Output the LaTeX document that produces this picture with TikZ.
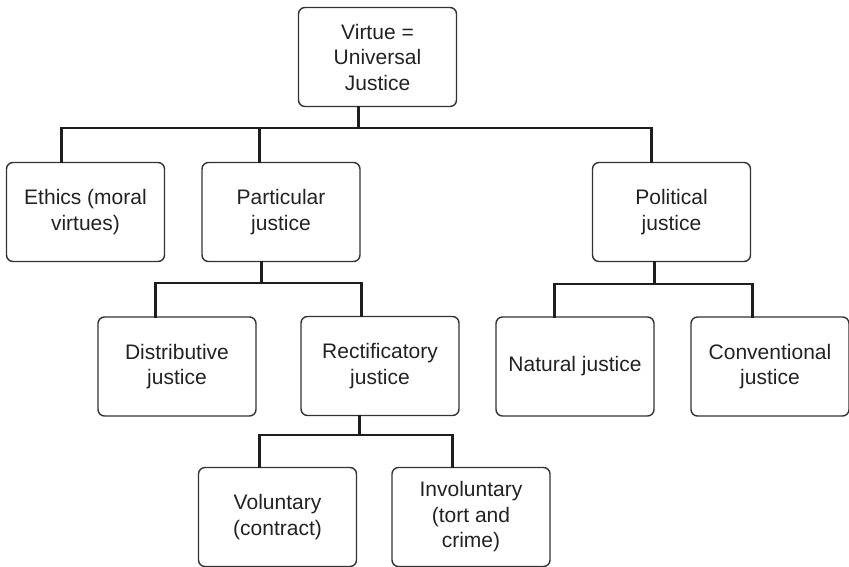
\documentclass[tikz,border=0pt]{standalone}
\usepackage{fontspec}
\setmainfont{Liberation Sans}
\begin{document}
\begin{tikzpicture}[x=1pt,y=-1pt,
  box/.style={draw=boxline, line width=1.4pt, rounded corners=6.5pt,
    minimum width=158pt, minimum height=99pt, inner sep=0pt,
    align=center, text=textgray,
    font=\fontsize{21}{25.5}\selectfont},
  conn/.style={draw=connline, line width=2.8pt, line join=miter, line cap=rect}]
\definecolor{boxline}{HTML}{333333}
\definecolor{connline}{HTML}{1E1E1E}
\definecolor{textgray}{HTML}{222222}
\useasboundingbox (0,0) rectangle (849,566);

% boxes
\node[box] (top) at (377.5,57) {Virtue =\\Universal\\Justice};
\node[box] (ethics) at (85.5,212) {Ethics (moral\\virtues)};
\node[box] (particular) at (281,212) {Particular\\justice};
\node[box] (political) at (671.5,212) {Political\\justice};
\node[box] (distributive) at (177,366.5) {Distributive\\justice};
\node[box] (rectificatory) at (380,366) {Rectificatory\\justice};
\node[box] (natural) at (575,366.5) {Natural justice};
\node[box] (conventional) at (770,366.5) {Conventional\\justice};
\node[box] (voluntary) at (277.5,517) {Voluntary\\(contract)};
\node[box] (involuntary) at (471,517) {Involuntary\\(tort and\\crime)};

% bar heights
\coordinate (bA) at (0,128);
\coordinate (bB) at (0,283);
\coordinate (bC) at (0,284);
\coordinate (bD) at (0,435);

% first level
\coordinate (tB) at ([xshift=61pt]top.south west);
\coordinate (eT) at ([xshift=56pt]ethics.north west);
\coordinate (pT) at ([xshift=58pt]particular.north west);
\coordinate (poT) at ([xshift=60pt]political.north west);
\draw[conn] (eT) -- (eT |- bA) -- (poT |- bA) -- (poT);
\draw[conn] (pT) -- (pT |- bA);
\draw[conn] (tB) -- (tB |- bA);

% particular justice
\coordinate (pB) at ([xshift=60pt]particular.south west);
\coordinate (dT) at ([xshift=58.5pt]distributive.north west);
\coordinate (rT) at ([xshift=61.5pt]rectificatory.north west);
\draw[conn] (dT) -- (dT |- bB) -- (rT |- bB) -- (rT);
\draw[conn] (pB) -- (pB |- bB);

% political justice
\coordinate (poB) at ([xshift=63pt]political.south west);
\coordinate (nT) at ([xshift=59pt]natural.north west);
\coordinate (cT) at ([xshift=62pt]conventional.north west);
\draw[conn] (nT) -- (nT |- bC) -- (cT |- bC) -- (cT);
\draw[conn] (poB) -- (poB |- bC);

% rectificatory justice
\coordinate (rB) at ([xshift=59pt]rectificatory.south west);
\coordinate (vT) at ([xshift=62pt]voluntary.north west);
\coordinate (iT) at ([xshift=61pt]involuntary.north west);
\draw[conn] (vT) -- (vT |- bD) -- (iT |- bD) -- (iT);
\draw[conn] (rB) -- (rB |- bD);
\end{tikzpicture}
\end{document}
